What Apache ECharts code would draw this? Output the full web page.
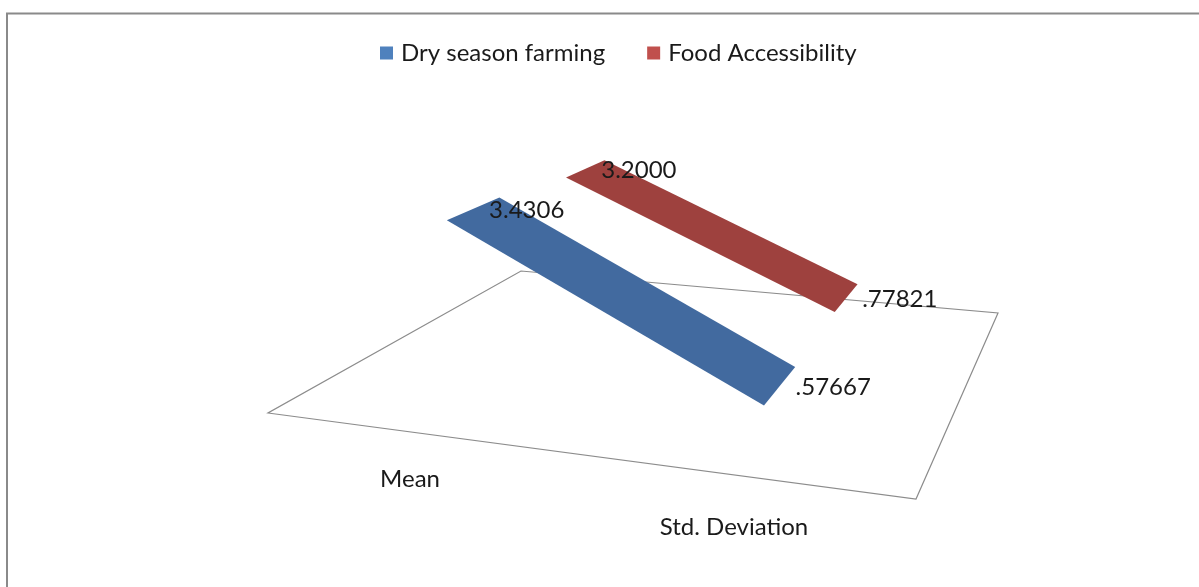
<!DOCTYPE html>
<html>
<head>
<meta charset="utf-8">
<script src="https://cdn.jsdelivr.net/npm/echarts@6/dist/echarts.min.js"></script>
<style>
  html, body { margin: 0; padding: 0; background: #ffffff; }
  #chart { width: 1199px; height: 587px; }
</style>
</head>
<body>
<div id="chart"></div>
<script>
// ---- data ----
const categories = ['Mean', 'Std. Deviation'];
const seriesNames = ['Dry season farming', 'Food Accessibility'];
const dryFarming = [3.4306, 0.57667];
const foodAccess = [3.2000, 0.77821];

// ---- styling ----
const legendColors = ['#4F81BD', '#C0504D'];
const ribbonColors = ['#426a9f', '#9e413e'];
const FONT = 'Lato, "Open Sans", sans-serif';
const FONT_SIZE = 24;

// value axis range of the hidden cartesian system (floor sits at the minimum)
const V_MIN = -0.9, V_MAX = 4.1;

// 3D scene: floor quad corners on screen (front-left, front-right, back-left, back-right)
const FL = [268, 413], FR = [916, 499], BL = [521, 271], BR = [998, 313];
// depth slots of each ribbon (0 = front edge of the floor, 1 = back edge)
const depthSlots = [[0.08, 0.33], [0.647, 0.83]];

// perspective projection: u along category axis, w into depth, h = height in value units above floor
function project(u, w, h) {
  const x = (1 - u) * (1 - w) * FL[0] + u * (1 - w) * FR[0] + (1 - u) * w * BL[0] + u * w * BR[0];
  const y = (1 - u) * (1 - w) * FL[1] + u * (1 - w) * FR[1] + (1 - u) * w * BL[1] + u * w * BR[1];
  const scale = 51.5 - 14.8 * u - 14.3 * w;
  return [x, y - h * scale];
}

// convert a point from the hidden grid into (u, h)
function toScene(pt, cs) {
  const u = (pt[0] - cs.x) / cs.width;
  const h = (cs.y + cs.height - pt[1]) / cs.height * (V_MAX - V_MIN);
  return [u, h];
}

function fmt(v) {
  return v >= 1 ? v.toFixed(4) : v.toFixed(5).replace(/^0/, '');
}

function segments(values) {
  const out = [];
  for (let i = 0; i < values.length - 1; i++) out.push([i, values[i], i + 1, values[i + 1]]);
  return out;
}

function ribbonSeries(idx, values) {
  const slot = depthSlots[idx];
  return {
    type: 'custom',
    name: seriesNames[idx],
    itemStyle: { color: legendColors[idx] },
    data: segments(values),
    z: 3 + (1 - idx),
    renderItem: function (params, api) {
      const cs = params.coordSys;
      const a = toScene(api.coord([api.value(0), api.value(1)]), cs);
      const b = toScene(api.coord([api.value(2), api.value(3)]), cs);
      const p1 = project(a[0], slot[0], a[1]);
      const p2 = project(b[0], slot[0], b[1]);
      const p3 = project(b[0], slot[1], b[1]);
      const p4 = project(a[0], slot[1], a[1]);
      const children = [{
        type: 'polygon',
        shape: { points: [p1, p2, p3, p4] },
        style: { fill: ribbonColors[idx], stroke: null }
      }];
      const ends = [[p1, p4, api.value(1)]];
      if (params.dataIndex === params.dataInsideLength - 1) ends.push([p2, p3, api.value(3)]);
      ends.forEach(function (e) {
        const cx = (e[0][0] + e[1][0]) / 2, cy = (e[0][1] + e[1][1]) / 2;
        children.push({
          type: 'text',
          z2: 10,
          style: {
            x: cx + 16, y: cy + 1, text: fmt(e[2]),
            fill: '#1a1a1a', font: FONT_SIZE + 'px ' + FONT,
            textAlign: 'left', textVerticalAlign: 'middle'
          }
        });
      });
      return { type: 'group', children: children };
    }
  };
}

const floorSeries = {
  type: 'custom',
  name: 'floor',
  data: [[0, V_MIN]],
  silent: true,
  z: 1,
  renderItem: function (params, api) {
    const cs = params.coordSys;
    const c0 = project(0, 0, 0), c1 = project(1, 0, 0), c2 = project(1, 1, 0), c3 = project(0, 1, 0);
    const children = [{
      type: 'polygon',
      shape: { points: [c0, c1, c2, c3] },
      style: { fill: 'none', stroke: '#8c8c8c', lineWidth: 1.2 }
    }];
    categories.forEach(function (name, i) {
      const u = toScene(api.coord([i, V_MIN]), cs)[0];
      const p = project(u, 0, 0);
      children.push({
        type: 'text',
        style: {
          x: p[0] - 20, y: p[1] + 43 + 9 * u, text: name,
          fill: '#1a1a1a', font: FONT_SIZE + 'px ' + FONT,
          textAlign: 'center', textVerticalAlign: 'middle'
        }
      });
    });
    return { type: 'group', children: children };
  }
};

const chart = echarts.init(document.getElementById('chart'), null, { renderer: 'canvas' });
chart.setOption({
  backgroundColor: '#ffffff',
  animation: false,
  legend: {
    data: seriesNames,
    left: 375,
    top: 36,
    icon: 'rect',
    itemWidth: 13,
    itemHeight: 13,
    itemGap: 42,
    textStyle: { fontFamily: FONT, fontSize: FONT_SIZE, color: '#1a1a1a', padding: [0, 0, 0, 3] }
  },
  grid: { left: 0, right: 0, top: 0, bottom: 0, show: false },
  xAxis: { type: 'category', data: categories, boundaryGap: true, show: false },
  yAxis: { type: 'value', min: V_MIN, max: V_MAX, show: false },
  graphic: [{
    type: 'rect',
    silent: true,
    shape: { x: 7, y: 13.5, width: 1300, height: 700 },
    style: { fill: 'none', stroke: '#8a8a8a', lineWidth: 2 }
  }],
  series: [floorSeries, ribbonSeries(1, foodAccess), ribbonSeries(0, dryFarming)]
});
</script>
</body>
</html>
